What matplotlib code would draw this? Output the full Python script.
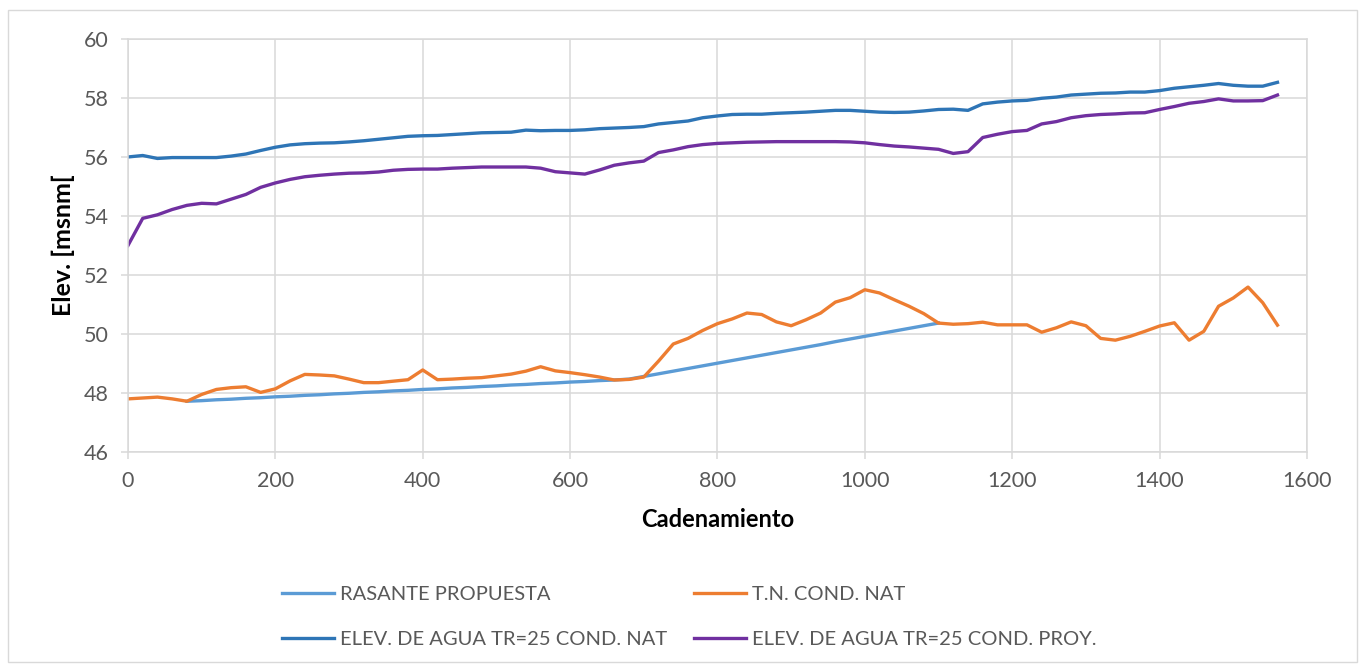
import matplotlib.pyplot as plt
from matplotlib.patches import Rectangle

# Perfil de elevaciones: cadenamiento cada 20 m
cadenamiento = list(range(0, 1580, 20))

# ELEV. DE AGUA TR=25 COND. NAT
agua_nat = [56.00, 56.05, 55.95, 55.98, 55.98, 55.98, 55.98, 56.03, 56.10, 56.22,
            56.33, 56.41, 56.45, 56.47, 56.48, 56.51, 56.55, 56.60, 56.65, 56.70,
            56.72, 56.73, 56.76, 56.79, 56.82, 56.83, 56.84, 56.91, 56.89, 56.90,
            56.90, 56.92, 56.96, 56.98, 57.00, 57.03, 57.12, 57.17, 57.22, 57.33,
            57.39, 57.44, 57.45, 57.45, 57.48, 57.50, 57.52, 57.55, 57.58, 57.58,
            57.55, 57.52, 57.51, 57.52, 57.56, 57.61, 57.62, 57.58, 57.80, 57.86,
            57.90, 57.92, 57.99, 58.03, 58.10, 58.13, 58.16, 58.17, 58.20, 58.20,
            58.25, 58.33, 58.38, 58.43, 58.49, 58.43, 58.40, 58.40, 58.53]

# ELEV. DE AGUA TR=25 COND. PROY.
agua_proy = [53.00, 53.92, 54.04, 54.22, 54.36, 54.43, 54.41, 54.57, 54.73, 54.97,
             55.12, 55.24, 55.33, 55.38, 55.42, 55.45, 55.46, 55.49, 55.55, 55.58,
             55.59, 55.59, 55.62, 55.64, 55.66, 55.66, 55.66, 55.66, 55.62, 55.50,
             55.46, 55.42, 55.56, 55.72, 55.80, 55.86, 56.15, 56.24, 56.35, 56.42,
             56.46, 56.48, 56.50, 56.51, 56.52, 56.52, 56.52, 56.52, 56.52, 56.51,
             56.48, 56.42, 56.37, 56.34, 56.30, 56.26, 56.12, 56.18, 56.66, 56.77,
             56.86, 56.90, 57.12, 57.20, 57.33, 57.40, 57.44, 57.46, 57.49, 57.50,
             57.61, 57.71, 57.82, 57.88, 57.97, 57.90, 57.90, 57.91, 58.10]

# T.N. COND. NAT
terreno = [47.80, 47.83, 47.86, 47.80, 47.72, 47.95, 48.12, 48.18, 48.21, 48.02,
           48.14, 48.41, 48.63, 48.61, 48.58, 48.47, 48.35, 48.35, 48.40, 48.45,
           48.78, 48.45, 48.47, 48.50, 48.52, 48.58, 48.64, 48.74, 48.89, 48.75,
           48.69, 48.62, 48.54, 48.44, 48.46, 48.54, 49.08, 49.66, 49.85, 50.12,
           50.35, 50.51, 50.71, 50.66, 50.41, 50.28, 50.48, 50.71, 51.08, 51.23,
           51.50, 51.39, 51.16, 50.94, 50.69, 50.37, 50.33, 50.35, 50.40, 50.31,
           50.31, 50.31, 50.06, 50.21, 50.41, 50.28, 49.85, 49.79, 49.92, 50.09,
           50.27, 50.38, 49.79, 50.09, 50.94, 51.22, 51.59, 51.06, 50.30]

# RASANTE PROPUESTA (de 80 a 1100)
cad_rasante = list(range(80, 1120, 20))
rasante = [47.72, 47.74, 47.77, 47.79, 47.82, 47.84, 47.87, 47.89, 47.92, 47.94,
           47.97, 47.99, 48.02, 48.04, 48.07, 48.09, 48.12, 48.14, 48.17, 48.19,
           48.22, 48.24, 48.27, 48.29, 48.32, 48.34, 48.37, 48.39, 48.42, 48.44,
           48.47, 48.56, 48.65, 48.74, 48.83, 48.92, 49.01, 49.10, 49.19, 49.28,
           49.37, 49.46, 49.55, 49.64, 49.74, 49.83, 49.92, 50.01, 50.10, 50.19,
           50.28, 50.37]

FONT = ["Lato", "DejaVu Sans"]
GRIS = "#595959"
GRID = "#D9D9D9"

plt.rcParams["font.family"] = FONT

fig = plt.figure(figsize=(13.6, 6.64), dpi=100)
ax = fig.add_axes([0.0941, 0.3193, 0.8669, 0.6220])

l_ras, = ax.plot(cad_rasante, rasante, color="#5B9BD5", lw=2.4, label="RASANTE PROPUESTA")
l_tn, = ax.plot(cadenamiento, terreno, color="#ED7D31", lw=2.4, label="T.N. COND. NAT")
l_nat, = ax.plot(cadenamiento, agua_nat, color="#2E75B6", lw=2.4, label="ELEV. DE AGUA TR=25 COND. NAT")
l_proy, = ax.plot(cadenamiento, agua_proy, color="#7030A0", lw=2.4, label="ELEV. DE AGUA TR=25 COND. PROY.")

ax.set_xlim(0, 1600)
ax.set_ylim(46, 60)
ax.set_xticks(range(0, 1601, 200))
ax.set_yticks(range(46, 61, 2))
ax.grid(True, color=GRID, lw=1.1)
ax.set_axisbelow(True)
for s in ax.spines.values():
    s.set_color(GRID)
    s.set_linewidth(1.1)
ax.tick_params(colors=GRID, labelcolor=GRIS, labelsize=15.5, length=5, width=1.1, pad=9)

ax.set_xlabel("Cadenamiento", fontsize=17, fontweight="bold", labelpad=12)
ax.set_ylabel("Elev. [msnm[", fontsize=18, fontweight="bold", labelpad=6)

fig.legend(handles=[l_ras, l_nat, l_tn, l_proy], ncol=2, frameon=False,
           loc="upper left", bbox_to_anchor=(0.2, 0.133), fontsize=14.5,
           handlelength=2.6, handletextpad=0.3, columnspacing=1.3,
           labelspacing=1.4, borderpad=0, labelcolor=GRIS)

fig.add_artist(Rectangle((0.006, 0.003), 0.992, 0.982, transform=fig.transFigure,
                         fill=False, edgecolor=GRID, lw=1.0))

fig.savefig("out.png", dpi=100)
